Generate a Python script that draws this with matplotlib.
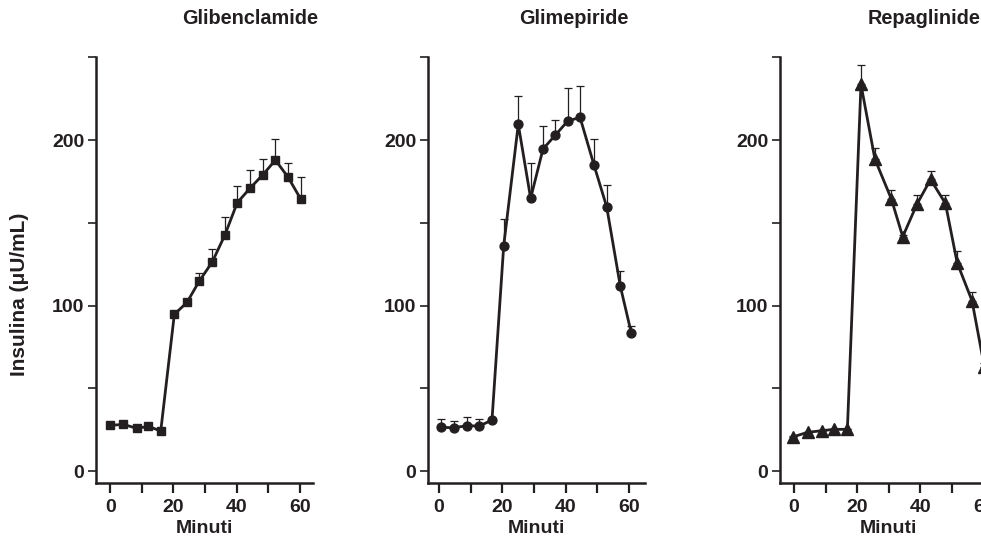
import matplotlib
matplotlib.use("Agg")
import matplotlib.pyplot as plt
import numpy as np

plt.rcParams['font.family'] = ['Liberation Sans', 'DejaVu Sans']
plt.rcParams['font.weight'] = 'bold'

# ---- data ----
titles = ["Glibenclamide", "Glimepiride", "Repaglinide"]

t_glib = [0, 4.2, 8.4, 12.1, 16, 20.3, 24.3, 28.2, 32.3, 36.3, 40.2, 44.3, 48.3, 52.3, 56.3, 60.3]
y_glib = [27.6, 28.2, 25.8, 27, 24.2, 94.7, 101.9, 114.8, 126.3, 142.6, 162.1, 171, 179, 187.9, 177.6, 164.4]
e_glib = [1, 1, 1, 1, 1, 1.5, 1.5, 5, 7.7, 10.7, 10.3, 10.7, 9.7, 12.5, 8.7, 13.4]

t_glim = [0.5, 4.7, 8.8, 12.7, 16.7, 20.4, 25, 28.9, 32.8, 36.7, 40.6, 44.5, 48.9, 52.9, 57.2, 60.7]
y_glim = [26.4, 26.2, 27.4, 27.2, 30.8, 136.2, 209.5, 164.8, 194.6, 203, 211.5, 213.7, 184.9, 159.7, 111.8, 83.2]
e_glim = [5, 4.2, 5, 4, 1.5, 16, 17, 21.5, 14, 9, 20, 19, 15.5, 13, 9, 4.4]

t_repa = [-0.2, 4.3, 8.9, 12.6, 16.9, 21.2, 25.6, 30.8, 34.4, 38.9, 43.2, 47.9, 51.6, 56.3, 60.2]
y_repa = [20.7, 23.4, 24.4, 25.2, 25.2, 233.6, 188.5, 164.4, 141.6, 161.3, 176.2, 161.7, 125.9, 102.9, 63]
e_repa = [0.5, 0.5, 0.5, 0.5, 0.5, 11.7, 6.5, 5.4, 1, 5.5, 5.3, 5, 7, 5.5, 2]

series = [(t_glib, y_glib, e_glib, 's', 6.0),
          (t_glim, y_glim, e_glim, 'o', 6.4),
          (t_repa, y_repa, e_repa, '^', 8.0)]

xlims = [(-4.5, 64.2), (-3.5, 65.0), (-4.4, 64.2)]
lefts_px = [96, 428, 780]
title_x_px = [250, 574, 924]

W, H = 981, 539
fig = plt.figure(figsize=(W / 100, H / 100), dpi=100)
col = '#231f20'

ax_w = 217 / W
ax_b = 1 - 483.3 / H
ax_h = (483.3 - 57) / H
ylim = (-7.4, 250.2)

for i, (t, y, e, mk, ms) in enumerate(series):
    ax = fig.add_axes([lefts_px[i] / W, ax_b, ax_w, ax_h])
    ax.errorbar(t, y, yerr=[np.zeros(len(e)), e], fmt='none', ecolor=col,
                elinewidth=0.9, capsize=2.6, capthick=0.9, zorder=2)
    ax.plot(t, y, color=col, lw=2.0, marker=mk, ms=ms, mfc=col, mec=col, zorder=3)
    ax.set_xlim(*xlims[i])
    ax.set_ylim(*ylim)
    for s in ['top', 'right']:
        ax.spines[s].set_visible(False)
    for s in ['left', 'bottom']:
        ax.spines[s].set_linewidth(1.8)
        ax.spines[s].set_color(col)
    ax.set_xticks([0, 10, 20, 30, 40, 50, 60])
    ax.set_xticklabels(['0', '', '20', '', '40', '', '60'])
    ax.set_yticks([0, 50, 100, 150, 200, 250])
    ax.set_yticklabels(['0', '', '100', '', '200', ''])
    ax.tick_params(axis='x', direction='out', length=7, width=1.6, color=col,
                   labelsize=14, pad=4, labelcolor=col)
    ax.tick_params(axis='y', direction='out', length=6, width=1.2, color=col,
                   labelsize=14, pad=2.5, labelcolor=col)
    for lab in ax.get_xticklabels() + ax.get_yticklabels():
        lab.set_fontweight('bold')
    ax.set_xlabel('Minuti', fontsize=14, fontweight='bold', color=col, labelpad=3.5)
    ax.patch.set_alpha(0)
    fig.text(title_x_px[i] / W, 1 - 18.5 / H, titles[i], ha='center', va='center',
             fontsize=14.3, fontweight='bold', color=col)

fig.text(20 / W, 1 - 294 / H, 'Insulina (\u03bcU/mL)', rotation=90, ha='center',
         va='center', fontsize=15, fontweight='bold', color=col)

fig.savefig('out.png', dpi=100)
